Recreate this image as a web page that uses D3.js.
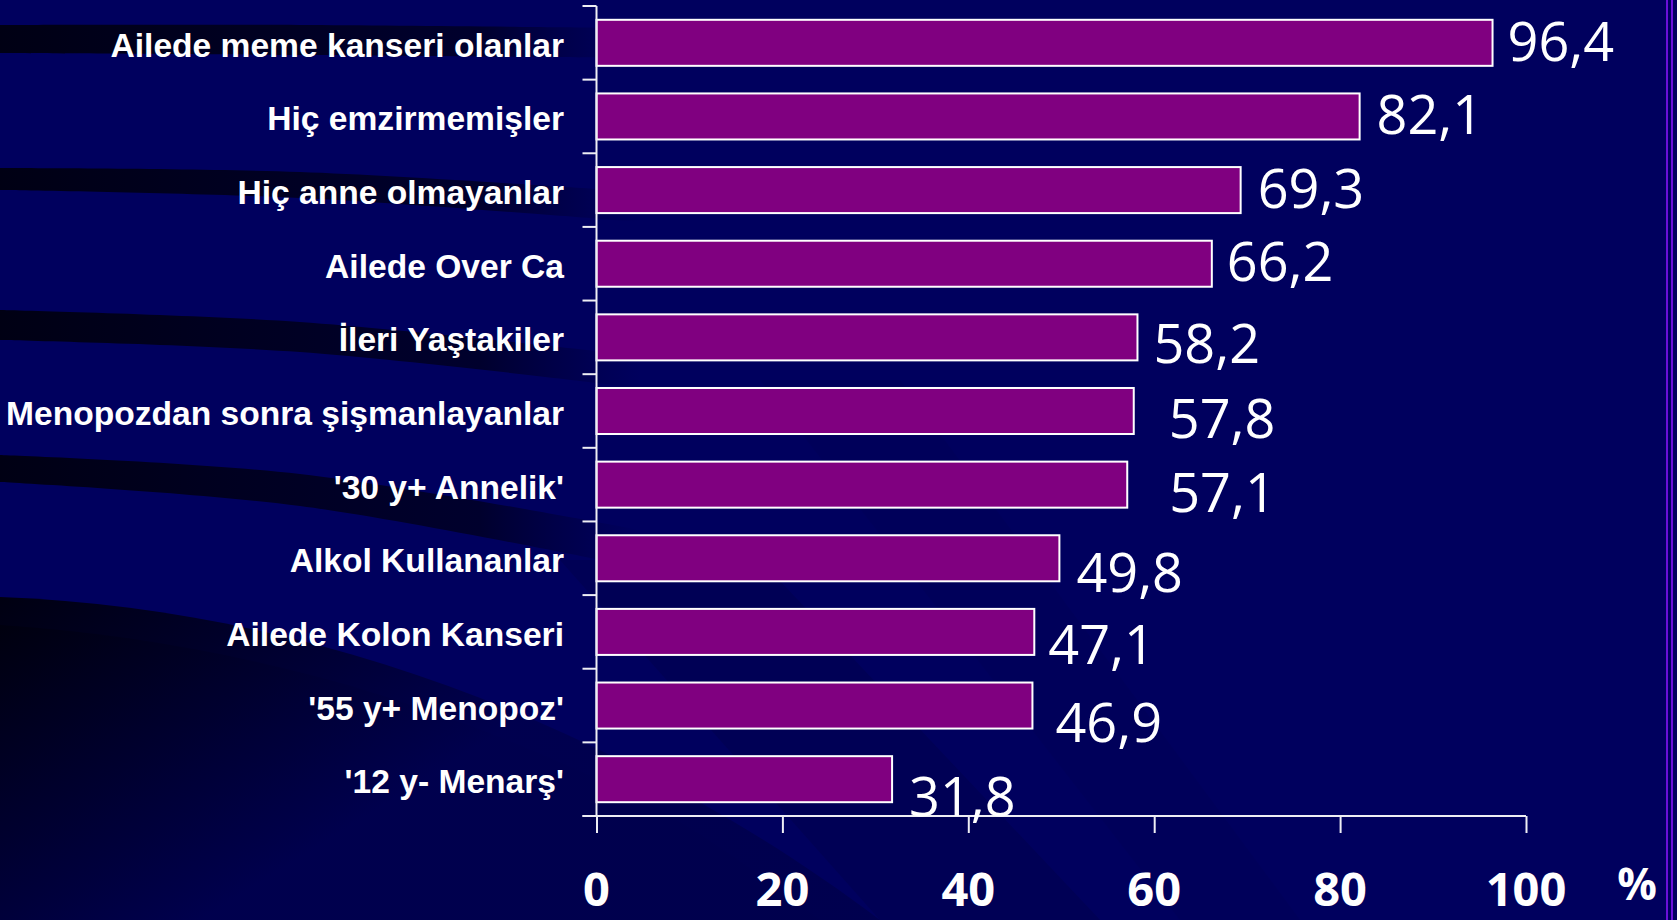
<!DOCTYPE html>
<html lang="tr">
<head>
<meta charset="utf-8">
<title>Meme kanseri risk faktörleri</title>
<script src="https://cdn.jsdelivr.net/npm/d3@7"></script>
<style>
  html, body { margin: 0; padding: 0; background: #00005e; overflow: hidden; }
  svg { display: block; }
</style>
</head>
<body>
<svg id="chart" width="1677" height="920"></svg>
<script>
// Risk factor categories, top to bottom
const categories = [
  "Ailede meme kanseri olanlar",
  "Hiç emzirmemişler",
  "Hiç anne olmayanlar",
  "Ailede Over Ca",
  "İleri Yaştakiler",
  "Menopozdan sonra şişmanlayanlar",
  "'30 y+ Annelik'",
  "Alkol Kullananlar",
  "Ailede Kolon Kanseri",
  "'55 y+ Menopoz'",
  "'12 y- Menarş'"
];

// Percentages
const values = [96.4, 82.1, 69.3, 66.2, 58.2, 57.8, 57.1, 49.8, 47.1, 46.9, 31.8];

// X axis tick values
const xTicks = [0, 20, 40, 60, 80, 100];

// Hand-placed nudges for the value labels [dx from bar end, dy from bar centre]
const labelNudge = [
  [15, -1], [17, -1], [17, -1], [15, -2], [16, 7], [35, 8],
  [42, 8], [17, 15], [14, 13], [23, 17], [17, 18]
];

const W = 1677, H = 920;
const svg = d3.select("#chart");
const defs = svg.append("defs");

// ---------- background ----------
svg.append("rect").attr("width", W).attr("height", H).attr("fill", "#00005e");

// soft horizontal swooshes fading out to the right
const swooshGrad = defs.append("linearGradient")
  .attr("id", "swoosh").attr("gradientUnits", "userSpaceOnUse")
  .attr("x1", 0).attr("y1", 0).attr("x2", 640).attr("y2", 0);
swooshGrad.append("stop").attr("offset", 0).attr("stop-color", "#000010").attr("stop-opacity", 0.95);
swooshGrad.append("stop").attr("offset", 0.75).attr("stop-color", "#000018").attr("stop-opacity", 0.7);
swooshGrad.append("stop").attr("offset", 1).attr("stop-color", "#000030").attr("stop-opacity", 0);

const swooshes = [
  { top: [[0, 25], [300, 25], [640, 28]], bottom: [[640, 58], [300, 55], [0, 53]] },
  { top: [[0, 168], [300, 172], [640, 192]], bottom: [[640, 222], [300, 198], [0, 190]] },
  { top: [[0, 310], [300, 322], [640, 356]], bottom: [[640, 388], [300, 352], [0, 340]] },
  { top: [[0, 455], [300, 474], [640, 530]], bottom: [[640, 568], [300, 506], [0, 482]] }
];
const edge = d3.line().curve(d3.curveCatmullRom);
swooshes.forEach(s => {
  const d = edge(s.top) + "L" + edge(s.bottom).slice(1) + "Z";
  svg.append("path").attr("d", d).attr("fill", "url(#swoosh)");
});

// large dark sweep in the lower left corner
const cornerGrad = defs.append("linearGradient")
  .attr("id", "corner").attr("gradientUnits", "userSpaceOnUse")
  .attr("x1", 0).attr("y1", 600).attr("x2", 200).attr("y2", 920);
cornerGrad.append("stop").attr("offset", 0).attr("stop-color", "#000004");
cornerGrad.append("stop").attr("offset", 1).attr("stop-color", "#00004c");
svg.append("path")
  .attr("d", "M0,597 C220,605 430,665 620,760 C720,810 800,860 880,920 L0,920 Z")
  .attr("fill", "url(#corner)").attr("opacity", 0.85);
svg.append("path")
  .attr("d", "M0,625 C230,640 440,700 640,800 C700,830 760,875 820,920 L0,920 Z")
  .attr("fill", "url(#corner)").attr("opacity", 0.5);

// faint diagonal shading in the plot area
svg.append("path")
  .attr("d", "M560,560 L760,560 L1100,920 L880,920 Z")
  .attr("fill", "#000020").attr("opacity", 0.15);
svg.append("path")
  .attr("d", "M760,380 L900,380 L1300,920 L1180,920 Z")
  .attr("fill", "#000030").attr("opacity", 0.08);

// double violet rule at the right edge
[1667, 1672].forEach(x => {
  svg.append("line").attr("x1", x).attr("x2", x).attr("y1", 0).attr("y2", H)
    .attr("stroke", "#6a10d8").attr("stroke-width", 2);
});

// ---------- scales ----------
const x = d3.scaleLinear().domain([0, 100]).range([596.5, 1526]);
const y = d3.scaleBand().domain(categories).range([6, 816])
  .paddingInner(0.375).paddingOuter(0.1875);
const step = y.step();
const bandTop = c => y(c) - step * 0.1875;

const axisColor = "#eeeef4";

// ---------- bars ----------
svg.append("g").selectAll("rect")
  .data(categories)
  .join("rect")
  .attr("x", x(0))
  .attr("y", c => y(c))
  .attr("width", (c, i) => x(values[i]) - x(0))
  .attr("height", y.bandwidth())
  .attr("fill", "#800080")
  .attr("stroke", "#ffffff")
  .attr("stroke-width", 2);

// ---------- y axis (ticks at category boundaries) ----------
const yAxis = svg.append("g");
yAxis.append("line")
  .attr("x1", x(0)).attr("x2", x(0))
  .attr("y1", y.range()[0]).attr("y2", y.range()[1])
  .attr("stroke", axisColor).attr("stroke-width", 2);
const boundaries = categories.map(bandTop).concat([y.range()[1]]);
yAxis.selectAll("line.tick")
  .data(boundaries)
  .join("line")
  .attr("class", "tick")
  .attr("x1", x(0) - 14).attr("x2", x(0))
  .attr("y1", d => d).attr("y2", d => d)
  .attr("stroke", axisColor).attr("stroke-width", 2);

// category labels
svg.append("g").selectAll("text")
  .data(categories)
  .join("text")
  .attr("x", 564)
  .attr("y", c => y(c) + y.bandwidth() / 2 + 14)
  .attr("text-anchor", "end")
  .attr("fill", "#ffffff")
  .attr("font-family", "'Liberation Sans', Arial, sans-serif")
  .attr("font-weight", "bold")
  .attr("font-size", 33.6)
  .text(c => c);

// ---------- x axis ----------
const xAxisG = svg.append("g")
  .attr("transform", `translate(0,${y.range()[1]})`)
  .call(d3.axisBottom(x).tickValues(xTicks).tickSize(17).tickFormat(""));
xAxisG.select(".domain").remove();
xAxisG.selectAll(".tick line").attr("stroke", axisColor).attr("stroke-width", 2);
xAxisG.append("line")
  .attr("x1", x(0) - 14).attr("x2", x(100))
  .attr("y1", 0).attr("y2", 0)
  .attr("stroke", axisColor).attr("stroke-width", 2);

const labelFont = "'Open Sans', 'Noto Sans', sans-serif";

svg.append("g").selectAll("text")
  .data(xTicks)
  .join("text")
  .attr("x", d => x(d))
  .attr("y", 906)
  .attr("text-anchor", "middle")
  .attr("fill", "#ffffff")
  .attr("font-family", labelFont)
  .attr("font-weight", "bold")
  .attr("font-size", 47)
  .text(d => d);

svg.append("text")
  .attr("x", 1637).attr("y", 900)
  .attr("text-anchor", "middle")
  .attr("fill", "#ffffff")
  .attr("font-family", labelFont)
  .attr("font-weight", "bold")
  .attr("font-size", 44)
  .text("%");

// ---------- value labels ----------
const trFormat = d3.formatLocale({ decimal: ",", thousands: ".", grouping: [3], currency: ["", ""] }).format(".1f");
svg.append("g").selectAll("text")
  .data(categories)
  .join("text")
  .attr("x", (c, i) => x(values[i]) + labelNudge[i][0])
  .attr("y", (c, i) => y(c) + y.bandwidth() / 2 + labelNudge[i][1] + 19)
  .attr("fill", "#ffffff")
  .attr("font-family", labelFont)
  .attr("font-size", 54)
  .text((c, i) => trFormat(values[i]));
</script>
</body>
</html>
